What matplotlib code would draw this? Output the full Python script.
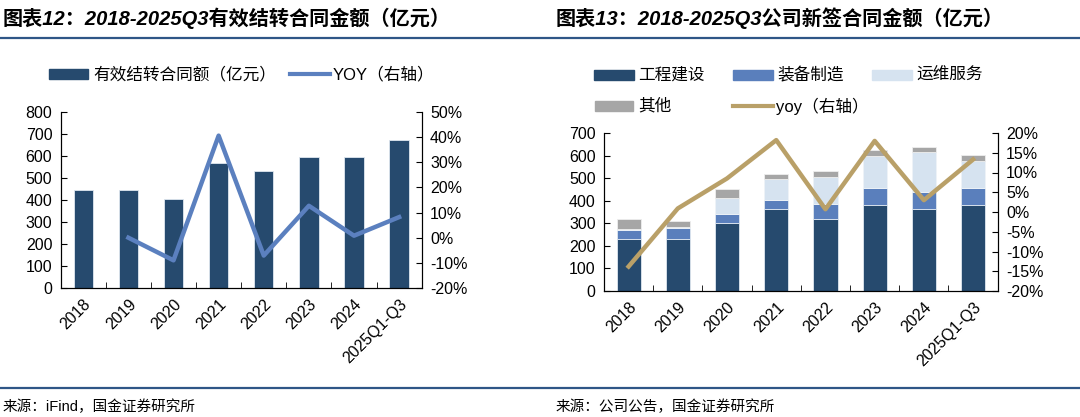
import numpy as np
import matplotlib
matplotlib.use('Agg')
import matplotlib.pyplot as plt
from matplotlib.patches import Rectangle
from matplotlib.lines import Line2D
from matplotlib.ticker import FuncFormatter, MultipleLocator, FixedLocator

plt.rcParams['font.family'] = ['Liberation Sans', 'Noto Sans CJK SC', 'DejaVu Sans']

# data
years = ['2018', '2019', '2020', '2021', '2022', '2023', '2024', '2025Q1-Q3']
backlog = [445, 445, 405, 570, 530, 597, 597, 672]
backlog_yoy = [np.nan, 0.0, -9.0, 40.6, -7.1, 12.7, 0.8, 8.2]

eng = [230, 230, 303, 363, 318, 382, 363, 382]
equip = [40, 48, 40, 40, 67, 74, 74, 74]
om = [3, 5, 68, 95, 121, 143, 180, 121]
other = [45, 27, 40, 19, 24, 26, 20, 27]
new_yoy = [-13.8, 0.9, 8.5, 18.2, 0.7, 18.0, 3.0, 13.3]

NAVY = '#264a6e'
MID = '#5a7fbc'
LIGHT = '#d6e3f0'
GREY = '#a6a6a6'
GOLD = '#b9a068'
LBLUE = '#5b80bf'
RULE = '#2f5687'

W, H = 1080, 417
fig = plt.figure(figsize=(W / 100, H / 100), dpi=100)


def box(x0, y0, x1, y1):
    return [x0 / W, 1 - y1 / H, (x1 - x0) / W, (y1 - y0) / H]


def ftxt(x, y, s, **kw):
    fig.text(x / W, 1 - y / H, s, va='center', **kw)


def fpatch(x0, x1, y, color):
    fig.patches.append(Rectangle((x0 / W, 1 - (y + 5) / H), (x1 - x0) / W, 10 / H,
                                 transform=fig.transFigure, color=color))


def fline(x0, x1, y, color):
    fig.lines.append(Line2D([x0 / W, x1 / W], [1 - y / H, 1 - y / H],
                            transform=fig.transFigure, color=color, lw=3))


def style(ax, ax2, n):
    ax.spines['top'].set_visible(False)
    ax2.spines['top'].set_visible(False)
    ax.set_xlim(-0.5, n - 0.5)
    ax.xaxis.set_major_locator(FixedLocator(range(n)))
    ax.xaxis.set_minor_locator(FixedLocator(np.arange(0.5, n - 1, 1)))
    ax.tick_params(axis='x', which='major', length=0, pad=6)
    ax.tick_params(axis='x', which='minor', direction='in', length=4)
    ax.tick_params(axis='y', direction='in', length=4, labelsize=11.5, pad=6)
    ax2.tick_params(axis='y', direction='in', length=4, labelsize=11.5, pad=6)
    ax.set_xticklabels(years, rotation=45, ha='right', rotation_mode='anchor', fontsize=11.5)
    ax2.yaxis.set_major_formatter(FuncFormatter(lambda v, p: f'{v:.0f}%'))


x = np.arange(len(years))

# left chart
ax = fig.add_axes(box(60.7, 112, 421.7, 288))
ax2 = ax.twinx()
ax.bar(x, backlog, width=0.43, color=NAVY, edgecolor='#dfe7f0', linewidth=0.6)
ax2.plot(x, backlog_yoy, color=LBLUE, lw=3.2)
ax.set_ylim(0, 800)
ax.yaxis.set_major_locator(MultipleLocator(100))
ax2.set_ylim(-20, 50)
ax2.yaxis.set_major_locator(MultipleLocator(10))
style(ax, ax2, len(years))

# right chart
bx = fig.add_axes(box(604, 133, 997.7, 291))
bx2 = bx.twinx()
b1 = np.array(eng)
b2 = b1 + np.array(equip)
b3 = b2 + np.array(om)
bx.bar(x, eng, width=0.49, color=NAVY, edgecolor='#dfe7f0', linewidth=0.6)
bx.bar(x, equip, width=0.49, bottom=b1, color=MID, edgecolor='#dfe7f0', linewidth=0.6)
bx.bar(x, om, width=0.49, bottom=b2, color=LIGHT, edgecolor='#eef3f8', linewidth=0.6)
bx.bar(x, other, width=0.49, bottom=b3, color=GREY, edgecolor='#eeeeee', linewidth=0.6)
bx2.plot(x, new_yoy, color=GOLD, lw=3.2)
bx.set_ylim(0, 700)
bx.yaxis.set_major_locator(MultipleLocator(100))
bx2.set_ylim(-20, 20)
bx2.yaxis.set_major_locator(MultipleLocator(5))
style(bx, bx2, len(years))

# titles and rules
tkw = dict(fontsize=14.5, fontweight='bold', style='italic', color='black')
ftxt(3, 18, '图表12：2018-2025Q3有效结转合同金额（亿元）', **tkw)
ftxt(556, 18, '图表13：2018-2025Q3公司新签合同金额（亿元）', **tkw)
fig.lines.append(Line2D([0, 1], [1 - 38 / H, 1 - 38 / H], transform=fig.transFigure, color=RULE, lw=1.6))
fig.lines.append(Line2D([0, 1], [1 - 388 / H, 1 - 388 / H], transform=fig.transFigure, color=RULE, lw=1.6))
ftxt(3, 407, '来源：iFind，国金证券研究所', fontsize=10.5)
ftxt(556, 407, '来源：公司公告，国金证券研究所', fontsize=10.5)

# legends
lkw = dict(fontsize=12)
fpatch(49, 88, 74, NAVY)
ftxt(93, 74, '有效结转合同额（亿元）', **lkw)
fline(290, 330, 74, LBLUE)
ftxt(333, 74, 'YOY（右轴）', **lkw)

fpatch(594, 634, 75, NAVY)
ftxt(638, 75, '工程建设', **lkw)
fpatch(733, 773, 75, MID)
ftxt(777, 75, '装备制造', **lkw)
fpatch(872, 912, 75, LIGHT)
ftxt(916, 75, '运维服务', **lkw)
fpatch(595, 633, 106, GREY)
ftxt(638, 106, '其他', **lkw)
fline(733, 773, 106, GOLD)
ftxt(776, 106, 'yoy（右轴）', **lkw)

fig.savefig('out.png', dpi=100)
